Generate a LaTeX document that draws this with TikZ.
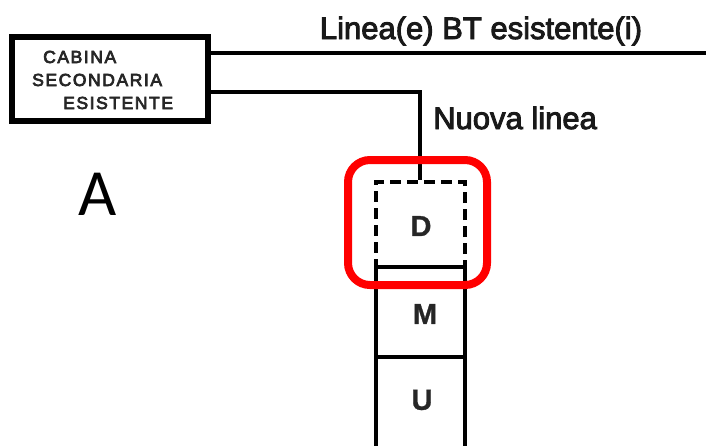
\documentclass[tikz,border=0pt]{standalone}
\usepackage{fontspec}
\setmainfont{Liberation Sans}
\newfontfamily\carl{Carlito}
\newfontfamily\spaced{Liberation Sans}[LetterSpace=9,FakeBold=4]
\newfontfamily\heavy{Liberation Sans}[FakeBold=3]
\newfontfamily\heavyb{Liberation Sans Bold}[FakeBold=1]
\begin{document}
\begin{tikzpicture}[x=1pt,y=-1pt,
  cabtext/.style={anchor=base west,inner sep=0pt,font=\spaced\fontsize{17.5}{17.5}\selectfont,text=black!85},
  wire/.style={line width=4pt,black},
  lbl/.style={inner sep=0pt,font=\heavy\fontsize{31}{31}\selectfont,text=black!90},
  celltext/.style={inner sep=0pt,font=\heavyb\fontsize{29}{29}\selectfont,text=black!85},
  cell/.style={draw,line width=4pt,minimum width=89pt,inner sep=0pt}
]
\useasboundingbox (0,0) rectangle (706,445);
% main box
\node[draw,line width=6pt,minimum width=196pt,minimum height=84pt,inner sep=0pt] (cab) at (110,79) {};
\node[cabtext] (t1) at (43,63) {CABINA};
\node[cabtext] (t2) at (32,86) {SECONDARIA};
\node[cabtext] (t3) at (63,109) {ESISTENTE};
% cells
\node[cell,dashed,dash pattern=on 11pt off 6pt,minimum height=85pt] (D) at (420,224.5) {};
\node[cell,minimum height=90pt] (M) at (420,312) {};
\node[cell,minimum height=100pt] (U) at (420,407) {};
\node[celltext] (Dl) at (421,226) {D};
\node[celltext] (Ml) at (425,314) {M};
\node[celltext] (Ul) at (422,400) {U};
% wires
\coordinate (a1) at (208,53);
\coordinate (a2) at (706,53);
\coordinate (b1) at (208,92);
\draw[wire] (a1) -- (a2);
\draw[wire] (b1) -| (D.north);
% labels
\node[lbl,anchor=base] (L1) at (481,39) {Linea(e) BT esistente(i)};
\node[lbl,anchor=base west] (L2) at (433,129) {Nuova linea};
\node[inner sep=0pt,anchor=base,font=\carl\fontsize{66}{66}\selectfont] (A) at (98,215) {A};
% highlight
\node[draw=red,line width=8pt,rounded corners=22pt,minimum width=139pt,minimum height=125pt,inner sep=0pt] (hl) at (417.5,222.5) {};
\end{tikzpicture}
\end{document}
